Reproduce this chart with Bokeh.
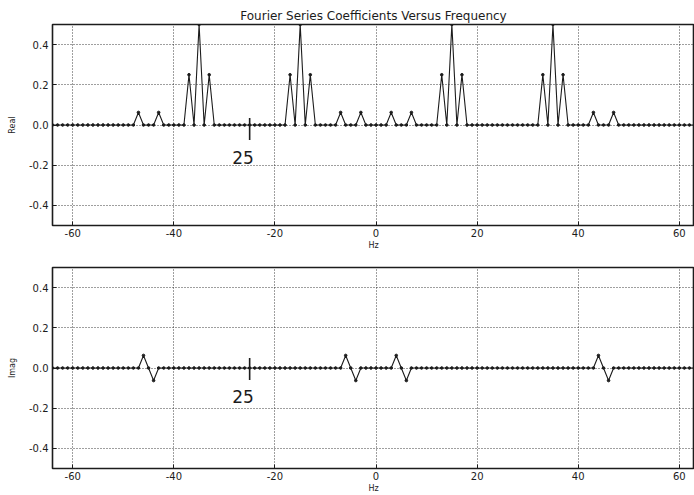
from bokeh.plotting import figure
from bokeh.layouts import column
from bokeh.models import FixedTicker, PrintfTickFormatter, ColumnDataSource, Label, Segment
from bokeh.embed import file_html
from bokeh.resources import INLINE

# ---- data ----
hz = [
    -64, -63, -62, -61, -60, -59, -58, -57, -56, -55, -54, -53, -52, -51, -50, -49,
    -48, -47, -46, -45, -44, -43, -42, -41, -40, -39, -38, -37, -36, -35, -34, -33,
    -32, -31, -30, -29, -28, -27, -26, -25, -24, -23, -22, -21, -20, -19, -18, -17,
    -16, -15, -14, -13, -12, -11, -10, -9, -8, -7, -6, -5, -4, -3, -2, -1,
    0, 1, 2, 3, 4, 5, 6, 7, 8, 9, 10, 11, 12, 13, 14, 15,
    16, 17, 18, 19, 20, 21, 22, 23, 24, 25, 26, 27, 28, 29, 30, 31,
    32, 33, 34, 35, 36, 37, 38, 39, 40, 41, 42, 43, 44, 45, 46, 47,
    48, 49, 50, 51, 52, 53, 54, 55, 56, 57, 58, 59, 60, 61, 62, 63,
]
real = [
    0, 0, 0, 0, 0, 0, 0, 0, 0, 0, 0, 0, 0, 0, 0, 0,
    0, 0.0625, 0, 0, 0, 0.0625, 0, 0, 0, 0, 0, 0.25, 0, 0.5, 0, 0.25,
    0, 0, 0, 0, 0, 0, 0, 0, 0, 0, 0, 0, 0, 0, 0, 0.25,
    0, 0.5, 0, 0.25, 0, 0, 0, 0, 0, 0.0625, 0, 0, 0, 0.0625, 0, 0,
    0, 0, 0, 0.0625, 0, 0, 0, 0.0625, 0, 0, 0, 0, 0, 0.25, 0, 0.5,
    0, 0.25, 0, 0, 0, 0, 0, 0, 0, 0, 0, 0, 0, 0, 0, 0,
    0, 0.25, 0, 0.5, 0, 0.25, 0, 0, 0, 0, 0, 0.0625, 0, 0, 0, 0.0625,
    0, 0, 0, 0, 0, 0, 0, 0, 0, 0, 0, 0, 0, 0, 0, 0,
]
imag = [
    0, 0, 0, 0, 0, 0, 0, 0, 0, 0, 0, 0, 0, 0, 0, 0,
    0, 0, 0.0625, 0, -0.0625, 0, 0, 0, 0, 0, 0, 0, 0, 0, 0, 0,
    0, 0, 0, 0, 0, 0, 0, 0, 0, 0, 0, 0, 0, 0, 0, 0,
    0, 0, 0, 0, 0, 0, 0, 0, 0, 0, 0.0625, 0, -0.0625, 0, 0, 0,
    0, 0, 0, 0, 0.0625, 0, -0.0625, 0, 0, 0, 0, 0, 0, 0, 0, 0,
    0, 0, 0, 0, 0, 0, 0, 0, 0, 0, 0, 0, 0, 0, 0, 0,
    0, 0, 0, 0, 0, 0, 0, 0, 0, 0, 0, 0, 0.0625, 0, -0.0625, 0,
    0, 0, 0, 0, 0, 0, 0, 0, 0, 0, 0, 0, 0, 0, 0, 0,
]
x_ticks = [-60, -40, -20, 0, 20, 40, 60]
y_ticks = [-0.4, -0.2, 0.0, 0.2, 0.4]
title_text = "Fourier Series Coefficients Versus Frequency"
y_labels = ["Real", "Imag"]
x_label = "Hz"
note_text = "25"
note_hz = -25

FONT = "DejaVu Sans"
INK = "#1c1c1c"


def make_panel(values, ylabel, height, top, bottom, title=None):
    p = figure(width=694, height=height, x_range=(-64, 63), y_range=(-0.5, 0.5),
               output_backend="svg", toolbar_location=None,
               min_border_left=52, min_border_right=0,
               min_border_top=top, min_border_bottom=bottom)
    if title:
        p.title.text = title
        p.title.align = "center"
        p.title.text_font = FONT
        p.title.text_font_size = "12px"
        p.title.text_font_style = "normal"
        p.title.text_color = INK
        p.title.standoff = 4
    src = ColumnDataSource(dict(x=hz, y=values))
    p.line("x", "y", source=src, line_color=INK, line_width=1.1)
    p.scatter("x", "y", source=src, size=2.6, color=INK)

    p.outline_line_color = INK
    p.outline_line_width = 1.6
    p.background_fill_color = "white"
    p.border_fill_color = "white"

    for ax in (p.xaxis[0], p.yaxis[0]):
        ax.axis_line_color = None
        ax.major_tick_in = 4
        ax.major_tick_out = 0
        ax.major_tick_line_color = INK
        ax.minor_tick_line_color = None
        ax.major_label_text_font = FONT
        ax.major_label_text_font_size = "10px"
        ax.major_label_text_color = INK
        ax.axis_label_text_font = FONT
        ax.axis_label_text_font_size = "8px"
        ax.axis_label_text_font_style = "normal"
        ax.axis_label_text_color = INK
    p.xaxis.ticker = FixedTicker(ticks=x_ticks)
    p.yaxis.ticker = FixedTicker(ticks=y_ticks)
    p.xaxis.formatter = PrintfTickFormatter(format="%d")
    p.yaxis.formatter = PrintfTickFormatter(format="%.1f")
    p.xaxis.major_label_standoff = 3
    p.yaxis.major_label_standoff = 4
    p.xaxis.axis_label = x_label
    p.xaxis.axis_label_standoff = 1
    p.yaxis.axis_label = ylabel
    p.yaxis.axis_label_standoff = 9

    for g in (p.xgrid[0], p.ygrid[0]):
        g.grid_line_color = INK
        g.grid_line_dash = "1 2"
        g.grid_line_width = 1
        g.grid_line_alpha = 0.85
    p.xgrid.ticker = FixedTicker(ticks=x_ticks)
    p.ygrid.ticker = FixedTicker(ticks=y_ticks)
    return p


p1 = make_panel(real, y_labels[0], 255, 24, 30, title=title_text)
p2 = make_panel(imag, y_labels[1], 240, 12, 26)

# hand-drawn mark and note at 25 (drawn on the scan)
for p, y0, y1, ty in ((p1, 0.035, -0.075, -0.13), (p2, 0.05, -0.06, -0.11)):
    p.segment(x0=[note_hz], y0=[y0], x1=[note_hz], y1=[y1], line_color=INK, line_width=1.6)
    p.add_layout(Label(x=note_hz - 1.3, y=ty, text=note_text, text_align="center",
                       text_baseline="top", text_font=FONT, text_font_size="17px",
                       text_color=INK))

layout = column(p1, p2, spacing=0)
open("out.html", "w").write(file_html(layout, INLINE))
